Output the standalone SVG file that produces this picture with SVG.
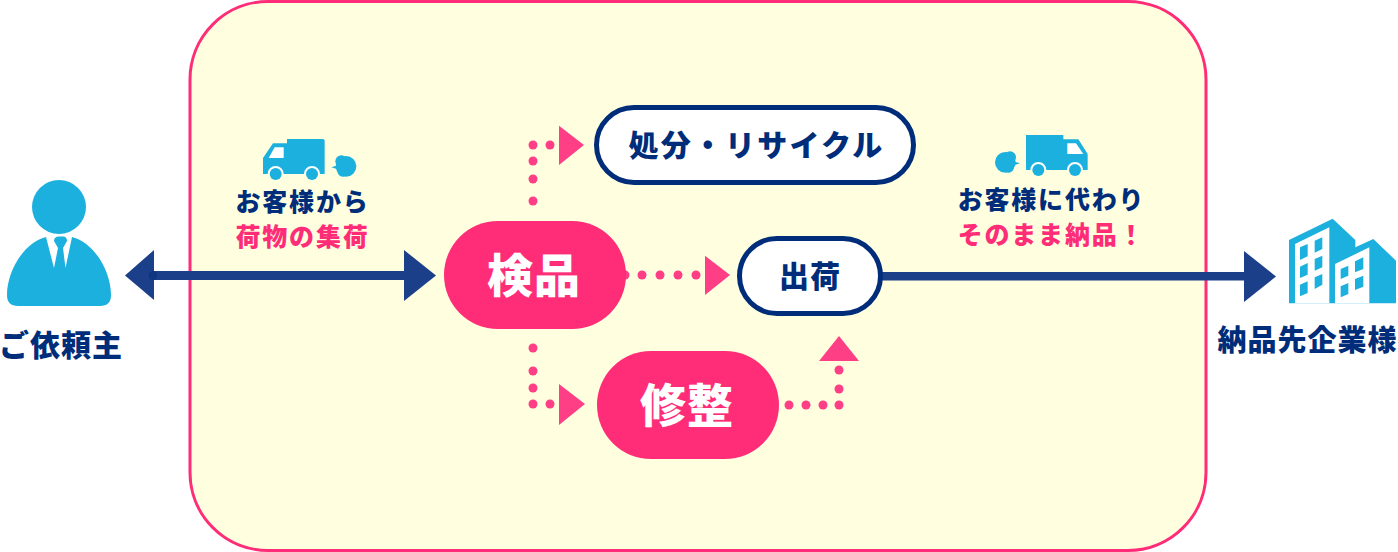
<svg xmlns="http://www.w3.org/2000/svg" width="1398" height="552" viewBox="0 0 1398 552">
<style>
text{font-family:"Noto Sans CJK JP","Noto Sans",sans-serif;font-weight:900;text-anchor:middle}
.navy{fill:#002d7a}.pink{fill:#ff2d78}.white{fill:#fff}
.ic{fill:#1cb0de}
.dot{fill:#ff3f85}
.tri{fill:#ff3f85}
.hd{fill:#1c3f8a}
.l{font-size:25px;letter-spacing:1.800px}
.b{font-size:46px;letter-spacing:1px}
</style>
<rect x="190" y="1.500" width="1016" height="549" rx="78" fill="#ffffdf" stroke="#ff2d78" stroke-width="3"/>
<g id="connectors">
<g class="hd">
<path d="M154 250V300L125 275.500Z"/>
<rect x="152" y="271" width="254" height="9"/>
<path d="M404 250L436 275.500L404 301Z"/>
<rect x="880" y="272" width="365" height="8.500"/>
<path d="M1244 251L1276 276.500L1244 302Z"/>
</g>
<circle cx="153" cy="275.500" r="4.500" fill="#0f3680"/>
<g class="dot">
<circle cx="533" cy="145" r="4.500"/><circle cx="550" cy="145" r="4.500"/><circle cx="533" cy="161" r="4.500"/><circle cx="533" cy="179" r="4.500"/><circle cx="533" cy="201" r="4.500"/>
<circle cx="625" cy="275" r="4.500"/><circle cx="642" cy="275" r="4.500"/><circle cx="660" cy="275" r="4.500"/><circle cx="678" cy="275" r="4.500"/><circle cx="696" cy="275" r="4.500"/>
<circle cx="533" cy="348" r="4.500"/><circle cx="533" cy="371" r="4.500"/><circle cx="533" cy="388" r="4.500"/><circle cx="533" cy="404" r="4.500"/><circle cx="550" cy="404" r="4.500"/>
<circle cx="789" cy="405" r="4.500"/><circle cx="806" cy="405" r="4.500"/><circle cx="823" cy="405" r="4.500"/><circle cx="839" cy="405" r="4.500"/><circle cx="839" cy="389" r="4.500"/><circle cx="839" cy="370" r="4.500"/>
</g>
<g class="tri">
<path d="M559 125.700L584 145L559 165Z"/>
<path d="M705 255.700L730 275L705 295Z"/>
<path d="M559 384L585 404L559 425Z"/>
<path d="M819 361L839 336L859 361Z"/>
</g>
</g>
<g id="client">
<circle class="ic" cx="59" cy="207" r="27"/>
<path class="ic" d="M46 237L54 268L58 248L54 241Q54 236.500 59 236.500H63Q67 236.500 67 241L63 248L65.500 268L72 237C95 243 111 272 111 295Q111 306 100 306H18Q7 306 7 295C7 272 23 243 46 237Z"/>
<text class="navy" x="61" y="356" style="font-size:30px;letter-spacing:1px">ご依頼主</text>
</g>
<g id="truck-left">
<g transform="translate(258 134) scale(.33333)">
<path class="ic" d="M87 15H194Q200 15 200 21V120H15V72L45 28H87Z"/>
<path class="white" d="M50 40H77V72H32Z"/>
<path class="white" d="M29 120A24 24 0 0 1 77 120ZM138 120A24 24 0 0 1 186 120Z"/>
<circle class="ic" cx="53" cy="120" r="18"/><circle class="ic" cx="162" cy="120" r="18"/>
<g class="ic"><circle cx="264" cy="97" r="31"/><circle cx="250" cy="82" r="18"/><circle cx="254" cy="112" r="16"/><path d="M220 100L245 92V108Z"/></g>
</g>
<text class="l navy" x="302.500" y="211">お客様から</text>
<text class="l pink" x="302.500" y="246">荷物の集荷</text>
</g>
<g id="inspect">
<rect class="pink" x="444" y="221" width="182" height="108" rx="54"/>
<text class="b white" x="534" y="292">検品</text>
</g>
<g id="recycle">
<rect class="white" x="596.500" y="107.500" width="317" height="75" rx="37.500" stroke="#002d7a" stroke-width="5"/>
<text class="navy" x="756.500" y="156" style="font-size:30px;letter-spacing:2.200px">処分・リサイクル</text>
</g>
<g id="ship">
<rect class="white" x="739.500" y="238.500" width="141" height="75" rx="37.500" stroke="#002d7a" stroke-width="5"/>
<text x="810" y="287" class="navy" style="font-size:30px;letter-spacing:1px">出荷</text>
</g>
<g id="repair">
<rect class="pink" x="597" y="351" width="182" height="108" rx="54"/>
<text class="b white" x="687" y="422">修整</text>
</g>
<g id="truck-right">
<g transform="translate(990 130) scale(.33333)">
<path class="ic" d="M108 15H220V28H265L293 72V120H108Z"/>
<path class="white" d="M232 40H258L280 72H232Z"/>
<path class="white" d="M121 120A24 24 0 0 1 169 120ZM231 120A24 24 0 0 1 279 120Z"/>
<circle class="ic" cx="145" cy="120" r="18"/><circle class="ic" cx="255" cy="120" r="18"/>
<g class="ic"><circle cx="46" cy="97" r="31"/><circle cx="60" cy="82" r="18"/><circle cx="56" cy="112" r="16"/><path d="M90 100L65 92V108Z"/></g>
</g>
<text class="l navy" x="1051.500" y="209">お客様に代わり</text>
<text class="l pink" x="1051.500" y="244">そのまま納品！</text>
</g>
<g id="company">
<g transform="translate(1280 214) scale(.33333)">
<path class="ic" d="M27 78L158 14L226 78V100L280 75L348 140V268H27Z"/>
<path class="white" d="M45 90L148 40V268H45Z"/>
<path class="white" d="M165 150L268 100V268H165Z"/>
<g class="ic">
<path d="M60 100L83 90V127L60 138Z"/><path d="M60 158L83 147V182L60 192Z"/><path d="M60 212L83 202V237L60 247Z"/>
<path d="M104 80L127 70V105L104 116Z"/><path d="M104 135L127 125V160L104 170Z"/><path d="M104 190L127 180V212L104 225Z"/>
<path d="M182 165L205 155V185L182 195Z"/><path d="M182 217L205 207V240L182 250Z"/>
<path d="M225 142L250 130V165L225 175Z"/><path d="M225 195L250 185V218L225 228Z"/>
</g>
</g>
<text class="navy" x="1307.500" y="351" style="font-size:29px;letter-spacing:1px">納品先企業様</text>
</g>
</svg>
